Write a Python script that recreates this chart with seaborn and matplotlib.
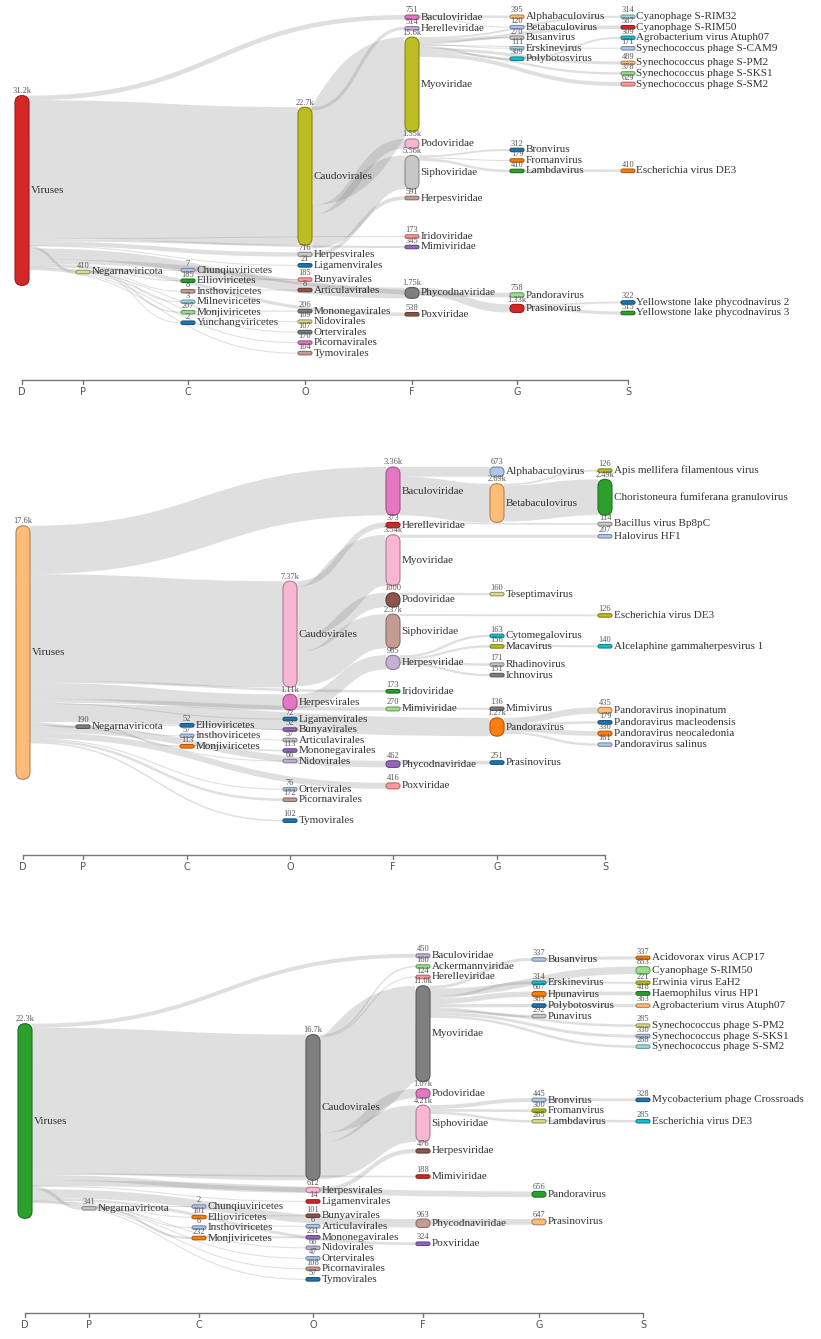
import numpy as np
import matplotlib
matplotlib.use("Agg")
import matplotlib.pyplot as plt
from matplotlib.path import Path
from matplotlib.patches import PathPatch, FancyBboxPatch
import seaborn as sns

sns.set_theme(style="white")
plt.rcParams['font.family'] = ['Liberation Serif', 'DejaVu Serif']

pal = sns.color_palette("tab20")
RANKS = ["D", "P", "C", "O", "F", "G", "S"]

###############################################
# Panel 1
p1_names = ["Viruses", "Negarnaviricota",
            "Chunqiuviricetes", "Ellioviricetes", "Insthoviricetes", "Milneviricetes", "Monjiviricetes", "Yunchangviricetes",
            "Caudovirales", "Herpesvirales", "Ligamenvirales", "Bunyavirales", "Articulavirales", "Mononegavirales",
            "Nidovirales", "Ortervirales", "Picornavirales", "Tymovirales",
            "Baculoviridae", "Herelleviridae", "Myoviridae", "Podoviridae", "Siphoviridae", "Herpesviridae",
            "Iridoviridae", "Mimiviridae", "Phycodnaviridae", "Poxviridae",
            "Alphabaculovirus", "Betabaculovirus", "Busanvirus", "Erskinevirus", "Polybotosvirus", "Bronvirus",
            "Fromanvirus", "Lambdavirus", "Pandoravirus", "Prasinovirus",
            "Cyanophage S-RIM32", "Cyanophage S-RIM50", "Agrobacterium virus Atuph07", "Synechococcus phage S-CAM9",
            "Synechococcus phage S-PM2", "Synechococcus phage S-SKS1", "Synechococcus phage S-SM2",
            "Escherichia virus DE3", "Yellowstone lake phycodnavirus 2", "Yellowstone lake phycodnavirus 3"]
p1_ranks = list("DP") + list("CCCCCC") + list("OOOOOOOOOO") + list("FFFFFFFFFF") + list("GGGGGGGGGG") + list("SSSSSSSSSS")
p1_values = [31200, 410,
             7, 185, 8, 3, 207, 2,
             22700, 716, 21, 185, 8, 206, 109, 107, 170, 104,
             751, 514, 15600, 1550, 5560, 591, 173, 345, 1750, 538,
             395, 120, 270, 111, 309, 312, 179, 410, 758, 1330,
             314, 587, 309, 171, 489, 378, 629, 410, 322, 515]
p1_parents = [None, "Viruses",
              "Negarnaviricota", "Negarnaviricota", "Negarnaviricota", "Negarnaviricota", "Negarnaviricota", "Negarnaviricota",
              "Viruses", "Viruses", "Viruses", "Ellioviricetes", "Insthoviricetes", "Monjiviricetes",
              "Viruses", "Viruses", "Viruses", "Viruses",
              "Viruses", "Caudovirales", "Caudovirales", "Caudovirales", "Caudovirales", "Herpesvirales",
              "Viruses", "Viruses", "Viruses", "Viruses",
              "Baculoviridae", "Baculoviridae", "Myoviridae", "Myoviridae", "Myoviridae", "Siphoviridae",
              "Siphoviridae", "Siphoviridae", "Viruses", "Phycodnaviridae",
              "Myoviridae", "Myoviridae", "Polybotosvirus", "Myoviridae", "Myoviridae", "Myoviridae", "Myoviridae",
              "Lambdavirus", "Prasinovirus", "Prasinovirus"]
p1_colors = [6, 17,
             1, 4, 11, 19, 5, 0,
             16, 15, 0, 7, 10, 14, 17, 14, 12, 11,
             12, 9, 16, 13, 15, 11, 7, 8, 14, 10,
             3, 1, 15, 19, 18, 0, 2, 4, 5, 6,
             19, 6, 18, 1, 3, 5, 7, 2, 0, 4]

# Panel 2
p2_names = ["Viruses", "Negarnaviricota",
            "Ellioviricetes", "Insthoviricetes", "Monjiviricetes",
            "Caudovirales", "Herpesvirales", "Ligamenvirales", "Bunyavirales", "Articulavirales", "Mononegavirales",
            "Nidovirales", "Ortervirales", "Picornavirales", "Tymovirales",
            "Baculoviridae", "Herelleviridae", "Myoviridae", "Podoviridae", "Siphoviridae", "Herpesviridae",
            "Iridoviridae", "Mimiviridae", "Phycodnaviridae", "Poxviridae",
            "Alphabaculovirus", "Betabaculovirus", "Teseptimavirus", "Cytomegalovirus", "Macavirus", "Rhadinovirus",
            "Ichnovirus", "Mimivirus", "Pandoravirus", "Prasinovirus",
            "Apis mellifera filamentous virus", "Choristoneura fumiferana granulovirus", "Bacillus virus Bp8pC",
            "Halovirus HF1", "Escherichia virus DE3", "Alcelaphine gammaherpesvirus 1",
            "Pandoravirus inopinatum", "Pandoravirus macleodensis", "Pandoravirus neocaledonia", "Pandoravirus salinus"]
p2_ranks = list("DP") + list("CCC") + list("OOOOOOOOOO") + list("FFFFFFFFFF") + list("GGGGGGGGGG") + list("SSSSSSSSSS")
p2_values = [17600, 190,
             52, 57, 113,
             7370, 1110, 72, 52, 57, 113, 66, 76, 172, 102,
             3360, 373, 3540, 1000, 2370, 985, 173, 270, 462, 416,
             673, 2690, 160, 163, 156, 171, 151, 136, 1270, 251,
             126, 2490, 114, 207, 126, 140, 435, 179, 330, 161]
p2_parents = [None, "Viruses",
              "Negarnaviricota", "Negarnaviricota", "Negarnaviricota",
              "Viruses", "Viruses", "Viruses", "Ellioviricetes", "Insthoviricetes", "Monjiviricetes",
              "Viruses", "Viruses", "Viruses", "Viruses",
              "Viruses", "Caudovirales", "Caudovirales", "Caudovirales", "Caudovirales", "Herpesvirales",
              "Viruses", "Viruses", "Viruses", "Viruses",
              "Baculoviridae", "Baculoviridae", "Podoviridae", "Herpesviridae", "Herpesviridae", "Herpesviridae",
              "Herpesviridae", "Mimiviridae", "Viruses", "Phycodnaviridae",
              "Betabaculovirus", "Betabaculovirus", "Herelleviridae", "Myoviridae", "Siphoviridae", "Macavirus",
              "Pandoravirus", "Pandoravirus", "Pandoravirus", "Pandoravirus"]
p2_colors = [3, 14,
             0, 1, 2,
             13, 12, 0, 8, 15, 8, 9, 1, 11, 0,
             12, 6, 13, 10, 11, 9, 4, 5, 8, 7,
             1, 3, 17, 18, 16, 15, 14, 14, 2, 0,
             16, 4, 15, 1, 16, 18, 3, 0, 2, 1]

# Panel 3
p3_names = ["Viruses", "Negarnaviricota",
            "Chunqiuviricetes", "Ellioviricetes", "Insthoviricetes", "Monjiviricetes",
            "Caudovirales", "Herpesvirales", "Ligamenvirales", "Bunyavirales", "Articulavirales", "Mononegavirales",
            "Nidovirales", "Ortervirales", "Picornavirales", "Tymovirales",
            "Baculoviridae", "Ackermannviridae", "Herelleviridae", "Myoviridae", "Podoviridae", "Siphoviridae",
            "Herpesviridae", "Mimiviridae", "Phycodnaviridae", "Poxviridae",
            "Busanvirus", "Erskinevirus", "Hpunavirus", "Polybotosvirus", "Punavirus", "Bronvirus",
            "Fromanvirus", "Lambdavirus", "Pandoravirus", "Prasinovirus",
            "Acidovorax virus ACP17", "Cyanophage S-RIM50", "Erwinia virus EaH2", "Haemophilus virus HP1",
            "Agrobacterium virus Atuph07", "Synechococcus phage S-PM2", "Synechococcus phage S-SKS1",
            "Synechococcus phage S-SM2", "Mycobacterium phage Crossroads", "Escherichia virus DE3"]
p3_ranks = list("DP") + list("CCCC") + list("OOOOOOOOOO") + list("FFFFFFFFFF") + list("GGGGGGGGGG") + list("SSSSSSSSSS")
p3_values = [22300, 341,
             2, 101, 6, 232,
             16700, 612, 14, 101, 6, 231, 66, 47, 108, 57,
             450, 160, 124, 11000, 1070, 4210, 476, 188, 963, 324,
             337, 314, 607, 363, 292, 445, 300, 285, 656, 647,
             337, 853, 221, 418, 363, 285, 330, 288, 328, 285]
p3_parents = [None, "Viruses",
              "Negarnaviricota", "Negarnaviricota", "Negarnaviricota", "Negarnaviricota",
              "Viruses", "Viruses", "Viruses", "Ellioviricetes", "Insthoviricetes", "Monjiviricetes",
              "Viruses", "Viruses", "Viruses", "Viruses",
              "Viruses", "Caudovirales", "Caudovirales", "Caudovirales", "Caudovirales", "Caudovirales",
              "Herpesvirales", "Viruses", "Viruses", "Viruses",
              "Myoviridae", "Myoviridae", "Myoviridae", "Myoviridae", "Myoviridae", "Siphoviridae",
              "Siphoviridae", "Siphoviridae", "Viruses", "Phycodnaviridae",
              "Busanvirus", "Myoviridae", "Erskinevirus", "Hpunavirus", "Polybotosvirus", "Myoviridae",
              "Myoviridae", "Myoviridae", "Bronvirus", "Lambdavirus"]
p3_colors = [4, 15,
             1, 2, 1, 2,
             14, 13, 6, 10, 1, 8, 9, 1, 11, 0,
             9, 5, 7, 14, 12, 13, 10, 6, 11, 8,
             1, 18, 2, 0, 15, 1, 16, 17, 4, 3,
             2, 5, 16, 4, 3, 17, 1, 19, 0, 18]

# layout of each panel: rank x positions, vertical extent, axis line
panels = [
    dict(data=(p1_names, p1_ranks, p1_values, p1_parents, p1_colors),
         xs=[22, 83, 188, 305, 412, 517, 628], top=15, bottom=366, axis_y=380),
    dict(data=(p2_names, p2_ranks, p2_values, p2_parents, p2_colors),
         xs=[23, 83, 187, 290, 393, 497, 605], top=467, bottom=838, axis_y=855),
    dict(data=(p3_names, p3_ranks, p3_values, p3_parents, p3_colors),
         xs=[25, 89, 199, 313, 423, 539, 643], top=946, bottom=1296, axis_y=1313),
]

NODE_W = 14
PAD = 7
KY_PAD = 20.5
MIN_H = 3.5
ITER = 6
LINK_RGBA = (0.55, 0.55, 0.55, 0.28)


def fmt(v):
    if v <= 1000:
        return str(v)
    x = v / 1000
    d = max(0, 3 - len(str(int(x))))
    return f"{x:.{d}f}k"


def sankey_layout(ranks, values, parents, names, y_top, y_bot):
    """d3-sankey (v0.12) style relaxation, root column held in place,
    column order kept fixed; the upper ranks are then re-hung on the root"""
    n = len(names)
    idx = {nm: i for i, nm in enumerate(names)}
    layer = [RANKS.index(r) for r in ranks]
    cols = [[i for i in range(n) if ranks[i] == r] for r in RANKS]
    cols = [c for c in cols if c]
    par = [idx[p] if p else None for p in parents]
    kids = {i: [] for i in range(n)}
    for i, p in enumerate(par):
        if p is not None:
            kids[p].append(i)
    ky = min((y_bot - y_top - (len(c) - 1) * KY_PAD) / sum(values[i] for i in c) for c in cols)
    h = np.array([max(v * ky, MIN_H) for v in values])
    lw = np.array([v * ky for v in values])  # width of the link into node i
    y0 = np.zeros(n)

    # initial stacking, spread evenly
    for c in cols:
        yy = y_top
        for i in c:
            y0[i] = yy
            yy += h[i] + PAD
        step = (y_bot - yy + PAD) / (len(c) + 1)
        for k, i in enumerate(c):
            y0[i] += step * (k + 1)

    def ordered_kids(s):
        return sorted(kids[s], key=lambda t: y0[t])

    def target_top(s, t):
        ks = ordered_kids(s)
        yy = y0[s] - (len(ks) - 1) * PAD / 2
        for k in ks:
            if k == t:
                break
            yy += lw[k] + PAD
        return yy

    def source_top(s, t):
        yy = y0[t]
        for k in ordered_kids(s):
            if k == t:
                break
            yy -= lw[k]
        return yy

    def resolve(c, alpha):
        m = len(c) >> 1
        sub = c[m]
        yy = y0[sub] - PAD
        for i in reversed(c[:m]):
            d = (y0[i] + h[i] - yy) * alpha
            if d > 1e-6:
                y0[i] -= d
            yy = y0[i] - PAD
        yy = y0[sub] + h[sub] + PAD
        for i in c[m + 1:]:
            d = (yy - y0[i]) * alpha
            if d > 1e-6:
                y0[i] += d
            yy = y0[i] + h[i] + PAD
        yy = y_bot
        for i in reversed(c):
            d = (y0[i] + h[i] - yy) * alpha
            if d > 1e-6:
                y0[i] -= d
            yy = y0[i] - PAD
        yy = y_top
        for i in c:
            d = (yy - y0[i]) * alpha
            if d > 1e-6:
                y0[i] += d
            yy = y0[i] + h[i] + PAD

    for it in range(ITER):
        alpha = 0.99 ** it
        beta = max(1 - alpha, (it + 1) / ITER)
        for c in reversed(cols[1:-1]):
            for s in c:
                if not kids[s]:
                    continue
                num = den = 0.0
                for t in kids[s]:
                    v = values[t] * (layer[t] - layer[s])
                    num += source_top(s, t) * v
                    den += v
                y0[s] += (num / den - y0[s]) * alpha
            resolve(c, beta)
        for c in cols[1:]:
            for t in c:
                s = par[t]
                if s is None:
                    continue
                y0[t] += (target_top(s, t) - y0[t]) * alpha
            resolve(c, beta)
    for c in cols:
        resolve(c, 1.0)

    # phylum / class / order: hang straight off their parent's link slot
    root = cols[0][0]
    slot = {}
    yy = y0[root]
    for t in ordered_kids(root):
        slot[t] = yy + lw[t] / 2 - h[t] / 2
        yy += lw[t] + PAD
    for r in ("P", "C", "O"):
        c = [i for i in range(n) if ranks[i] == r]
        for i in c:
            p = par[i]
            if p == root:
                y0[i] = slot[i]
            else:
                off = sum(lw[k] for k in kids[p][:kids[p].index(i)])
                y0[i] = y0[p] + off + lw[i] / 2 - h[i] / 2
        prev = y_top - PAD
        for i in c:
            y0[i] = max(y0[i], prev + PAD)
            prev = y0[i] + h[i]
        yy = y_bot
        for i in reversed(c):
            if y0[i] + h[i] > yy:
                y0[i] = yy - h[i]
            yy = y0[i] - PAD
    return y0, h, lw, par, kids


fig = plt.figure(figsize=(8.21, 13.39), dpi=100)
ax = fig.add_axes([0, 0, 1, 1])
ax.set_xlim(0, 821)
ax.set_ylim(1339, 0)
ax.axis("off")
px = 72 / fig.dpi

for pn in panels:
    names, ranks, values, parents, colors = pn["data"]
    xs = pn["xs"]
    y, h, lw, par, kids = sankey_layout(ranks, values, parents, names, pn["top"], pn["bottom"])
    xc = [xs[RANKS.index(r)] for r in ranks]

    # links, stacked in the source node by target position
    for s in range(len(names)):
        sy = 0
        for t in sorted(kids[s], key=lambda k: y[k]):
            w = lw[t]
            x0 = xc[s] + NODE_W / 2
            x1 = xc[t] - NODE_W / 2
            ya = y[s] + sy + w / 2
            yb = y[t] + h[t] / 2
            sy += w
            xm = x0 + (x1 - x0) * 0.5
            path = Path([(x0, ya), (xm, ya), (xm, yb), (x1, yb)],
                        [Path.MOVETO, Path.CURVE4, Path.CURVE4, Path.CURVE4])
            ax.add_patch(PathPatch(path, fc="none", ec=LINK_RGBA,
                                   lw=max(1.0, w) * px, capstyle="butt", zorder=1))

    # nodes and labels
    for i, nm in enumerate(names):
        c = pal[colors[i]]
        edge = tuple(np.array(c) * 0.7)
        r = min(NODE_W, h[i]) / 2
        ax.add_patch(FancyBboxPatch((xc[i] - NODE_W / 2, y[i]), NODE_W, h[i],
                                    boxstyle=f"round,pad=0,rounding_size={r}",
                                    fc=c, ec=edge, lw=0.8, zorder=3))
        ax.text(xc[i], y[i] - 0.5, fmt(values[i]), ha="center", va="bottom",
                fontsize=6, color="#555555", zorder=4)
        ax.text(xc[i] + NODE_W / 2 + 1.5, y[i] + h[i] / 2, nm, ha="left", va="center",
                fontsize=8, color="#333333", zorder=4)

    # rank axis
    ay = pn["axis_y"]
    ax.plot([xs[0], xs[-1]], [ay, ay], color="#777777", lw=1, zorder=2)
    for r, x in zip(RANKS, xs):
        ax.plot([x, x], [ay, ay + 4], color="#777777", lw=1, zorder=2)
        ax.text(x, ay + 7, r, ha="center", va="top", fontsize=7,
                family="DejaVu Sans", color="#555555")

fig.savefig("out.png", dpi=100)
